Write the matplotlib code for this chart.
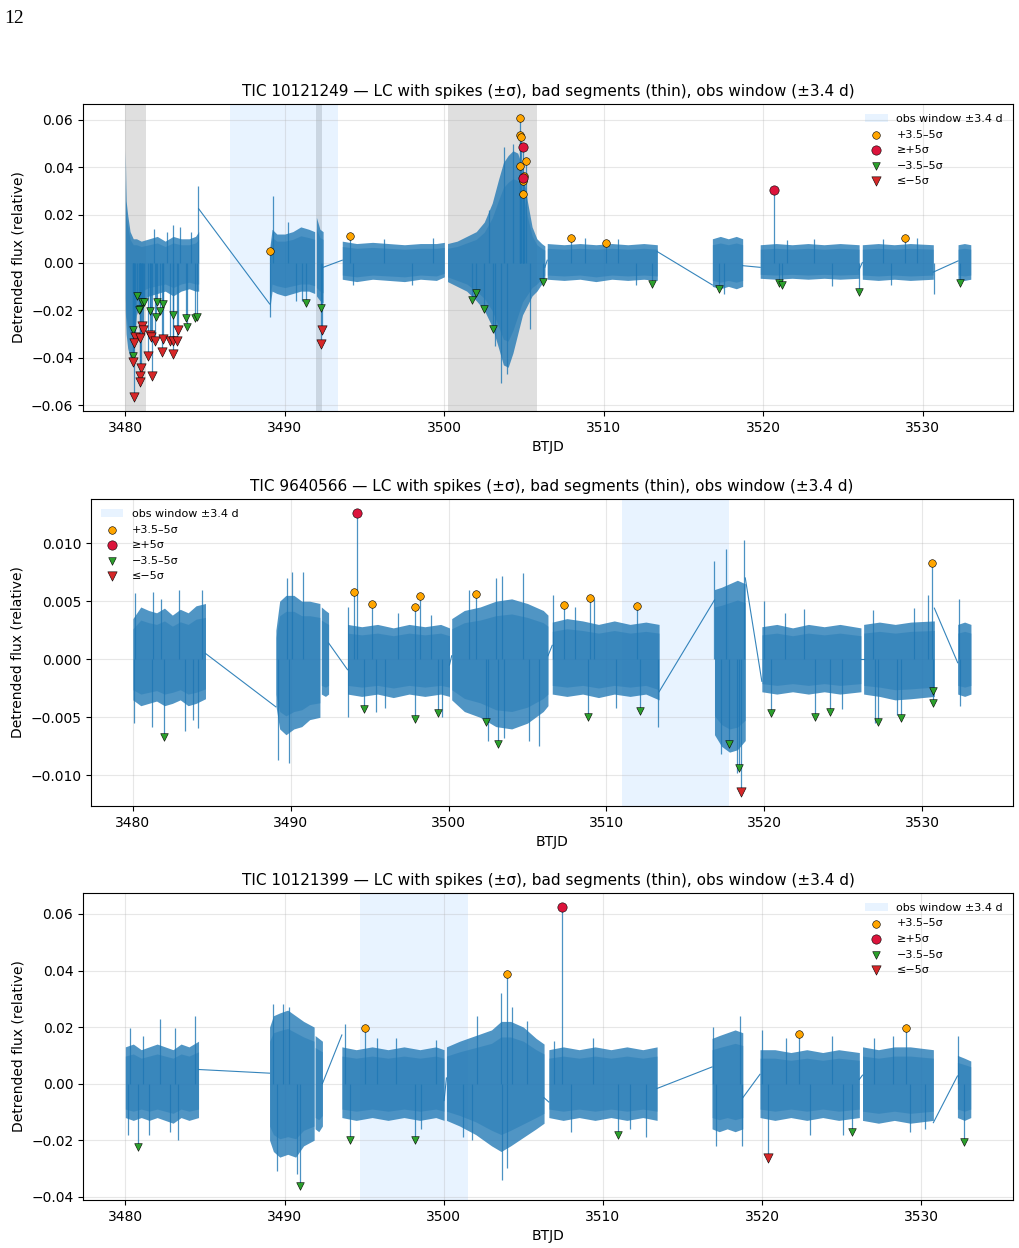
import numpy as np
import matplotlib
matplotlib.use("Agg")
import matplotlib.pyplot as plt

LC = "#1f77b4"

# ---------------- TIC 10121249 ----------------
p1_name = "TIC 10121249"
p1_bad = [(3480.0, 3481.3), (3491.95, 3492.35), (3500.2, 3504.1), (3504.1, 3505.8)]
p1_win = 3489.95
p1_seg_x = [
    [3480.0, 3480.05, 3480.15, 3480.3, 3480.5, 3480.7, 3481.0, 3481.5, 3482.0, 3482.5, 3483.0, 3483.5, 3484.0, 3484.4, 3484.6],
    [3489.05, 3489.2, 3489.5, 3490.0, 3490.5, 3491.0, 3491.5, 3491.87],
    [3491.98, 3492.2, 3492.4],
    [3493.6, 3494.5, 3495.5, 3496.5, 3497.5, 3498.5, 3499.5, 3500.0],
    [3500.2, 3500.8, 3501.4, 3502.0, 3502.5, 3503.0, 3503.4, 3503.7, 3504.0, 3504.3, 3504.6, 3504.9, 3505.2, 3505.5, 3505.8, 3506.1, 3506.3],
    [3506.45, 3507.5, 3508.5, 3509.5, 3510.5, 3511.5, 3512.5, 3513.35],
    [3516.8, 3517.3, 3517.8, 3518.3, 3518.7],
    [3519.8, 3520.8, 3521.8, 3522.8, 3523.8, 3524.8, 3526.0],
    [3526.2, 3527.2, 3528.2, 3529.2, 3530.65],
    [3532.2, 3532.6, 3533.0],
]
p1_seg_hi = [
    [0.047, 0.026, 0.020, 0.013, 0.010, 0.010, 0.009, 0.010, 0.011, 0.009, 0.011, 0.010, 0.010, 0.011, 0.013],
    [0.006, 0.014, 0.012, 0.012, 0.013, 0.015, 0.014, 0.013],
    [0.019, 0.014, 0.013],
    [0.009, 0.008, 0.0085, 0.008, 0.0075, 0.008, 0.008, 0.0085],
    [0.008, 0.009, 0.011, 0.013, 0.017, 0.025, 0.035, 0.042, 0.045, 0.047, 0.046, 0.040, 0.026, 0.015, 0.010, 0.008, 0.007],
    [0.008, 0.0075, 0.008, 0.0075, 0.008, 0.0075, 0.008, 0.0075],
    [0.010, 0.011, 0.010, 0.011, 0.010],
    [0.0075, 0.008, 0.0075, 0.008, 0.0075, 0.008, 0.0075],
    [0.0075, 0.008, 0.0075, 0.008, 0.0075],
    [0.0075, 0.008, 0.0075],
]
p1_seg_lo = [
    [-0.020, -0.030, -0.036, -0.040, -0.040, -0.022, -0.016, -0.014, -0.013, -0.012, -0.014, -0.012, -0.011, -0.012, -0.012],
    [-0.020, -0.012, -0.013, -0.014, -0.013, -0.012, -0.012, -0.013],
    [-0.014, -0.016, -0.017],
    [-0.007, -0.008, -0.007, -0.0075, -0.008, -0.007, -0.0075, -0.006],
    [-0.008, -0.010, -0.012, -0.016, -0.020, -0.027, -0.036, -0.043, -0.044, -0.038, -0.030, -0.022, -0.018, -0.014, -0.012, -0.009, -0.007],
    [-0.007, -0.0075, -0.007, -0.008, -0.007, -0.0075, -0.007, -0.0075],
    [-0.010, -0.011, -0.010, -0.011, -0.010],
    [-0.0066, -0.007, -0.0066, -0.007, -0.0066, -0.007, -0.0066],
    [-0.007, -0.0075, -0.007, -0.0075, -0.007],
    [-0.007, -0.0075, -0.007],
]
p1_gap_x = [(3484.6, 3489.05), (3492.4, 3493.6), (3506.3, 3506.45), (3513.35, 3516.8), (3518.7, 3519.8), (3526.0, 3526.2), (3530.65, 3532.2)]
p1_gap_y = [(0.0226, -0.0174), (-0.002, 0.001), (-0.002, 0.001), (0.0046, -0.0094), (-0.0013, -0.002), (-0.003, 0.0), (-0.004, 0.0007)]
p1_spk_x = [3484.58, 3489.25, 3489.05, 3483.0, 3490.7, 3503.55, 3503.75, 3503.9, 3503.2, 3504.3, 3508.8, 3512.0,
            3521.5, 3524.3, 3527.5, 3530.7, 3481.8, 3482.6, 3483.4, 3484.1, 3490.2, 3491.1, 3494.3, 3496.2,
            3498.0, 3499.3, 3502.8, 3505.4, 3510.9, 3517.5, 3523.2, 3528.0, 3529.6]
p1_spk_y = [0.032, 0.028, -0.023, 0.016, -0.016, -0.0505, 0.0484, -0.047, -0.035, 0.050, 0.0105, -0.0095,
            0.0095, -0.010, 0.0098, -0.013, 0.014, 0.013, 0.015, 0.013, 0.017, -0.016, -0.0095, 0.010,
            -0.0095, 0.0105, 0.022, -0.028, 0.0100, -0.013, 0.0098, -0.0095, 0.0105]
p1_op_x = [3489.1, 3494.1, 3504.72, 3504.75, 3504.8, 3505.1, 3504.77, 3504.99, 3504.95, 3504.9, 3507.94, 3510.16, 3528.88]
p1_op_y = [0.0049, 0.0112, 0.0608, 0.0538, 0.0527, 0.0426, 0.0404, 0.0365, 0.0344, 0.0288, 0.0105, 0.0083, 0.0103]
p1_rp_x = [3504.91, 3504.9, 3520.65]
p1_rp_y = [0.0485, 0.0355, 0.0303]
p1_gn_x = [3480.73, 3480.48, 3481.07, 3480.90, 3481.17, 3480.86, 3481.53, 3481.99, 3482.36, 3482.15, 3481.94,
           3482.99, 3483.78, 3483.87, 3484.35, 3484.49, 3480.48, 3491.35, 3492.29, 3501.73, 3502.0, 3502.47,
           3503.05, 3506.2, 3513.0, 3517.2, 3521.0, 3521.17, 3526.02, 3532.3]
p1_gn_y = [-0.0140, -0.0284, -0.0164, -0.0197, -0.0164, -0.0199, -0.0202, -0.0164, -0.0174, -0.0202, -0.0230,
           -0.0221, -0.0235, -0.0272, -0.0235, -0.0230, -0.0393, -0.0171, -0.0191, -0.0157, -0.0129, -0.0197,
           -0.0281, -0.0081, -0.0091, -0.0112, -0.0086, -0.0094, -0.0125, -0.0086]
p1_rn_x = [3480.48, 3480.52, 3481.07, 3481.11, 3480.59, 3480.54, 3480.90, 3481.57, 3481.63, 3481.84, 3482.36,
           3482.78, 3482.99, 3483.26, 3483.32, 3481.42, 3480.96, 3480.90, 3480.90, 3481.69, 3482.32, 3482.99,
           3492.35, 3492.25]
p1_rn_y = [-0.0417, -0.0565, -0.0267, -0.0284, -0.0312, -0.0336, -0.0315, -0.0305, -0.0312, -0.0329, -0.0323,
           -0.0329, -0.0329, -0.0329, -0.0284, -0.0393, -0.0441, -0.0478, -0.0501, -0.0476, -0.0375, -0.0385,
           -0.0284, -0.0343]

# ---------------- TIC 9640566 ----------------
p2_name = "TIC 9640566"
p2_bad = []
p2_win = 3514.38
p2_seg_x = [
    [3480.0, 3480.5, 3481.0, 3481.5, 3482.0, 3482.5, 3483.0, 3483.5, 3484.0, 3484.6],
    [3489.06, 3489.3, 3489.7, 3490.2, 3490.7, 3491.2, 3491.85],
    [3491.94, 3492.2, 3492.4],
    [3493.6, 3494.5, 3495.5, 3496.5, 3497.5, 3498.5, 3499.5, 3500.06],
    [3500.2, 3501.0, 3502.0, 3503.0, 3504.0, 3505.0, 3506.0, 3506.3],
    [3506.57, 3507.5, 3508.5, 3509.5, 3510.5, 3511.5, 3512.5, 3513.34],
    [3516.85, 3517.3, 3517.8, 3518.3, 3518.8],
    [3519.85, 3520.8, 3521.8, 3522.8, 3523.8, 3524.8, 3526.13],
    [3526.3, 3527.3, 3528.3, 3529.3, 3530.78],
    [3532.26, 3532.7, 3533.1],
]
p2_seg_hi = [
    [0.0035, 0.0045, 0.0042, 0.0040, 0.0044, 0.0038, 0.0043, 0.0040, 0.0046, 0.0048],
    [0.0025, 0.0050, 0.0055, 0.0055, 0.0050, 0.0050, 0.0048],
    [0.0045, 0.0042, 0.0040],
    [0.0030, 0.0028, 0.0030, 0.0027, 0.0030, 0.0028, 0.0030, 0.0027],
    [0.0035, 0.0042, 0.0045, 0.0050, 0.0052, 0.0048, 0.0042, 0.0038],
    [0.0032, 0.0035, 0.0033, 0.0030, 0.0033, 0.0030, 0.0032, 0.0030],
    [0.0060, 0.0062, 0.0065, 0.0068, 0.0065],
    [0.0028, 0.0030, 0.0027, 0.0030, 0.0028, 0.0030, 0.0027],
    [0.0030, 0.0032, 0.0030, 0.0032, 0.0033],
    [0.0030, 0.0032, 0.0030],
]
p2_seg_lo = [
    [-0.0035, -0.0040, -0.0038, -0.0036, -0.0040, -0.0038, -0.0035, -0.0040, -0.0038, -0.0034],
    [-0.0040, -0.0060, -0.0065, -0.0060, -0.0058, -0.0052, -0.0050],
    [-0.0030, -0.0032, -0.0030],
    [-0.0030, -0.0032, -0.0030, -0.0033, -0.0030, -0.0032, -0.0030, -0.0032],
    [-0.0035, -0.0045, -0.0050, -0.0058, -0.0060, -0.0055, -0.0045, -0.0040],
    [-0.0030, -0.0032, -0.0030, -0.0033, -0.0030, -0.0032, -0.0030, -0.0035],
    [-0.0065, -0.0075, -0.0080, -0.0078, -0.0070],
    [-0.0028, -0.0030, -0.0028, -0.0030, -0.0028, -0.0030, -0.0028],
    [-0.0030, -0.0032, -0.0035, -0.0034, -0.0032],
    [-0.0030, -0.0032, -0.0030],
]
p2_gap_x = [(3484.6, 3489.06), (3492.4, 3493.6), (3500.06, 3500.2), (3506.3, 3506.57), (3513.34, 3516.85), (3518.8, 3519.85), (3526.13, 3526.3), (3530.78, 3532.26)]
p2_gap_y = [(0.0005, -0.0041), (0.0014, -0.0009), (-0.0005, 0.0003), (0.0003, 0.0012), (-0.0028, 0.0051), (0.0070, -0.0019), (0.0, 0.0), (0.0044, -0.0003)]
p2_spk_x = [3480.15, 3481.3, 3482.9, 3484.4, 3480.05, 3481.2, 3483.3, 3484.1, 3489.2, 3489.9, 3490.1, 3490.8, 3489.75,
            3493.65, 3496.8, 3493.6, 3495.4, 3499.6, 3503.0, 3503.4, 3504.7, 3502.5, 3503.5, 3505.7, 3506.6, 3509.2,
            3516.85, 3517.6, 3518.7, 3517.25, 3518.3, 3520.0, 3522.5, 3530.4, 3532.35, 3532.4, 3513.3, 3527.0,
            3481.8, 3483.8, 3496.0, 3498.9, 3501.3, 3505.1, 3508.0, 3510.6, 3521.3, 3524.9, 3526.9, 3528.4, 3529.5]
p2_spk_y = [0.0057, 0.0058, 0.0060, 0.0060, -0.0055, -0.0058, -0.0062, -0.0059, -0.0087, -0.0089, 0.0075, 0.0075, 0.0070,
            0.0045, 0.0040, -0.0050, -0.0045, -0.0050, 0.0070, 0.0072, 0.0074, -0.0070, -0.0068, -0.0075, 0.0055, 0.0052,
            0.0085, 0.0095, 0.0103, -0.0082, -0.0098, 0.0050, 0.0043, 0.0055, 0.0052, -0.0040, -0.0058, -0.0055,
            0.0052, -0.0052, -0.0042, 0.0038, 0.0060, -0.0070, 0.0045, -0.0042, 0.0040, -0.0043, 0.0042, -0.0048, 0.0044]
p2_op_x = [3493.99, 3495.15, 3497.88, 3498.2, 3501.76, 3507.34, 3508.96, 3511.92, 3530.66]
p2_op_y = [0.00576, 0.00473, 0.0045, 0.00547, 0.00562, 0.00464, 0.00524, 0.00456, 0.00825]
p2_rp_x = [3494.22]
p2_rp_y = [0.0126]
p2_gn_x = [3481.95, 3494.62, 3497.88, 3499.32, 3502.35, 3503.13, 3508.82, 3512.14, 3517.78, 3518.39, 3520.44,
           3523.21, 3524.16, 3527.21, 3528.69, 3530.72, 3530.68]
p2_gn_y = [-0.0067, -0.0043, -0.00516, -0.00464, -0.00542, -0.00728, -0.00493, -0.00444, -0.00731, -0.0094, -0.00464,
           -0.00493, -0.00456, -0.00544, -0.00507, -0.0027, -0.00378]
p2_rn_x = [3518.56]
p2_rn_y = [-0.01143]

# ---------------- TIC 10121399 ----------------
p3_name = "TIC 10121399"
p3_bad = []
p3_win = 3498.15
p3_seg_x = [
    [3480.0, 3480.5, 3481.0, 3481.5, 3482.0, 3482.5, 3483.0, 3483.5, 3484.0, 3484.6],
    [3489.06, 3489.3, 3489.7, 3490.2, 3490.7, 3491.2, 3491.86],
    [3491.92, 3492.15, 3492.38],
    [3493.6, 3494.5, 3495.5, 3496.5, 3497.5, 3498.5, 3499.5, 3500.02],
    [3500.17, 3501.0, 3502.0, 3503.0, 3503.6, 3504.2, 3505.0, 3505.8, 3506.3],
    [3506.6, 3507.5, 3508.5, 3509.5, 3510.5, 3511.5, 3512.5, 3513.4],
    [3516.85, 3517.3, 3517.8, 3518.3, 3518.78],
    [3519.86, 3520.8, 3521.8, 3522.8, 3523.8, 3524.8, 3526.1],
    [3526.3, 3527.3, 3528.3, 3529.3, 3530.75],
    [3532.26, 3532.7, 3533.1],
]
p3_seg_hi = [
    [0.013, 0.014, 0.012, 0.013, 0.014, 0.013, 0.012, 0.014, 0.013, 0.015],
    [0.020, 0.024, 0.025, 0.026, 0.024, 0.022, 0.020],
    [0.017, 0.016, 0.015],
    [0.013, 0.012, 0.013, 0.012, 0.013, 0.012, 0.013, 0.012],
    [0.013, 0.015, 0.017, 0.019, 0.022, 0.022, 0.020, 0.016, 0.014],
    [0.012, 0.013, 0.012, 0.013, 0.012, 0.013, 0.012, 0.013],
    [0.016, 0.017, 0.018, 0.019, 0.018],
    [0.012, 0.012, 0.011, 0.012, 0.011, 0.012, 0.011],
    [0.013, 0.012, 0.013, 0.013, 0.012],
    [0.010, 0.009, 0.008],
]
p3_seg_lo = [
    [-0.012, -0.013, -0.012, -0.013, -0.012, -0.013, -0.014, -0.012, -0.013, -0.012],
    [-0.020, -0.024, -0.026, -0.025, -0.026, -0.022, -0.020],
    [-0.016, -0.017, -0.015],
    [-0.012, -0.013, -0.012, -0.013, -0.012, -0.013, -0.012, -0.013],
    [-0.013, -0.015, -0.018, -0.022, -0.024, -0.022, -0.019, -0.016, -0.014],
    [-0.012, -0.013, -0.012, -0.013, -0.012, -0.013, -0.012, -0.013],
    [-0.016, -0.017, -0.016, -0.017, -0.016],
    [-0.012, -0.013, -0.012, -0.013, -0.012, -0.013, -0.012],
    [-0.013, -0.014, -0.013, -0.014, -0.013],
    [-0.012, -0.013, -0.012],
]
p3_gap_x = [(3484.6, 3489.06), (3492.38, 3493.6), (3500.02, 3500.17), (3506.3, 3506.6), (3513.4, 3516.85), (3518.78, 3519.86), (3526.1, 3526.3), (3530.75, 3532.26)]
p3_gap_y = [(0.005, 0.0037), (0.0, 0.0172), (-0.006, 0.002), (-0.005, -0.0065), (-0.0017, 0.0059), (-0.005, 0.0033), (0.0015, 0.0030), (-0.0138, 0.0027)]
p3_spk_x = [3480.3, 3482.2, 3483.1, 3484.4, 3480.15, 3481.5, 3483.3, 3489.3, 3489.9, 3490.3, 3489.5, 3490.8,
            3493.8, 3497.0, 3499.5, 3502.1, 3503.6, 3504.3, 3503.65, 3504.0, 3501.8, 3506.9, 3518.6, 3516.9,
            3517.1, 3518.7, 3520.0, 3524.4, 3523.0, 3527.0, 3529.3, 3532.3, 3508.0, 3512.7,
            3481.1, 3482.8, 3495.8, 3498.6, 3501.2, 3505.2, 3509.4, 3511.7, 3521.5, 3525.1, 3528.2, 3530.2]
p3_spk_y = [0.0198, 0.023, 0.0198, 0.024, -0.018, -0.018, -0.020, 0.028, 0.028, 0.027, -0.031, -0.032,
            0.0212, 0.016, 0.0155, 0.024, 0.032, 0.027, -0.034, -0.030, -0.020, 0.015, 0.024, 0.020,
            -0.022, -0.022, 0.019, 0.017, -0.018, 0.016, -0.017, 0.017, -0.017, -0.019,
            0.017, -0.017, 0.016, -0.016, -0.019, 0.022, 0.016, -0.016, 0.016, -0.018, 0.017, -0.016]
p3_op_x = [3495.06, 3503.97, 3522.33, 3529.0]
p3_op_y = [0.0198, 0.0389, 0.0175, 0.0195]
p3_rp_x = [3507.45]
p3_rp_y = [0.0625]
p3_gn_x = [3480.79, 3491.0, 3494.14, 3498.18, 3510.96, 3525.65, 3532.65]
p3_gn_y = [-0.0224, -0.0362, -0.0200, -0.0198, -0.0182, -0.0170, -0.0208]
p3_rn_x = [3520.34]
p3_rn_y = [-0.0264]

half_win = 3.4


def draw_panel(ax, name, bad, win, seg_x, seg_hi, seg_lo, gap_x, gap_y, spk_x, spk_y,
               op_x, op_y, rp_x, rp_y, gn_x, gn_y, rn_x, rn_y, legend_loc):
    for a, b in bad:
        ax.axvspan(a, b, color="gray", alpha=0.25, lw=0, zorder=0)
    ax.axvspan(win - half_win, win + half_win, color="dodgerblue", alpha=0.1, lw=0, zorder=0,
               label="obs window \u00b13.4 d")
    # stems of the flagged points and other visible outliers
    stems_x = list(spk_x) + list(op_x) + list(rp_x) + list(gn_x) + list(rn_x)
    stems_y = list(spk_y) + list(op_y) + list(rp_y) + list(gn_y) + list(rn_y)
    ax.vlines(stems_x, 0, stems_y, color=LC, lw=0.9, alpha=0.8, zorder=2)
    # noisy band: slightly lighter outer envelope, denser core
    for xs, hs, ls in zip(seg_x, seg_hi, seg_lo):
        hs = np.array(hs)
        ls = np.array(ls)
        ax.fill_between(xs, ls, hs, color=LC, alpha=0.78, lw=0, zorder=2)
        ax.fill_between(xs, 0.75 * ls, 0.75 * hs, color=LC, alpha=0.45, lw=0, zorder=2)
    for gx, gy in zip(gap_x, gap_y):
        ax.plot(gx, gy, color=LC, lw=0.8, alpha=0.9, zorder=2)
    ax.scatter(op_x, op_y, s=30, marker="o", color="orange", edgecolor="k", linewidth=0.4, zorder=4,
               label="+3.5\u20135\u03c3")
    ax.scatter(rp_x, rp_y, s=45, marker="o", color="crimson", edgecolor="k", linewidth=0.4, zorder=4,
               label="\u2265+5\u03c3")
    ax.scatter(gn_x, gn_y, s=30, marker="v", color="tab:green", edgecolor="k", linewidth=0.4, zorder=4,
               label="\u22123.5\u20135\u03c3")
    ax.scatter(rn_x, rn_y, s=45, marker="v", color="tab:red", edgecolor="k", linewidth=0.4, zorder=4,
               label="\u2264\u22125\u03c3")
    ax.set_title(name + " \u2014 LC with spikes (\u00b1\u03c3), bad segments (thin), obs window (\u00b13.4 d)",
                 fontsize=11)
    ax.set_xlabel("BTJD")
    ax.set_ylabel("Detrended flux (relative)")
    ax.grid(alpha=0.3)
    ax.legend(loc=legend_loc, fontsize=8, frameon=False)


fig = plt.figure(figsize=(10.2, 12.48), dpi=100)
fig.text(0.004, 0.992, "12", family="Liberation Serif", fontsize=14, va="top", ha="left")

ax1 = fig.add_axes([0.0814, 0.6707, 0.9118, 0.2460])
draw_panel(ax1, p1_name, p1_bad, p1_win, p1_seg_x, p1_seg_hi, p1_seg_lo, p1_gap_x, p1_gap_y,
           p1_spk_x, p1_spk_y, p1_op_x, p1_op_y, p1_rp_x, p1_rp_y, p1_gn_x, p1_gn_y, p1_rn_x, p1_rn_y,
           "upper right")

ax2 = fig.add_axes([0.0892, 0.3542, 0.9038, 0.2460])
draw_panel(ax2, p2_name, p2_bad, p2_win, p2_seg_x, p2_seg_hi, p2_seg_lo, p2_gap_x, p2_gap_y,
           p2_spk_x, p2_spk_y, p2_op_x, p2_op_y, p2_rp_x, p2_rp_y, p2_gn_x, p2_gn_y, p2_rn_x, p2_rn_y,
           "upper left")

ax3 = fig.add_axes([0.0814, 0.0385, 0.9118, 0.2460])
draw_panel(ax3, p3_name, p3_bad, p3_win, p3_seg_x, p3_seg_hi, p3_seg_lo, p3_gap_x, p3_gap_y,
           p3_spk_x, p3_spk_y, p3_op_x, p3_op_y, p3_rp_x, p3_rp_y, p3_gn_x, p3_gn_y, p3_rn_x, p3_rn_y,
           "upper right")

fig.savefig("out.png", dpi=100)
